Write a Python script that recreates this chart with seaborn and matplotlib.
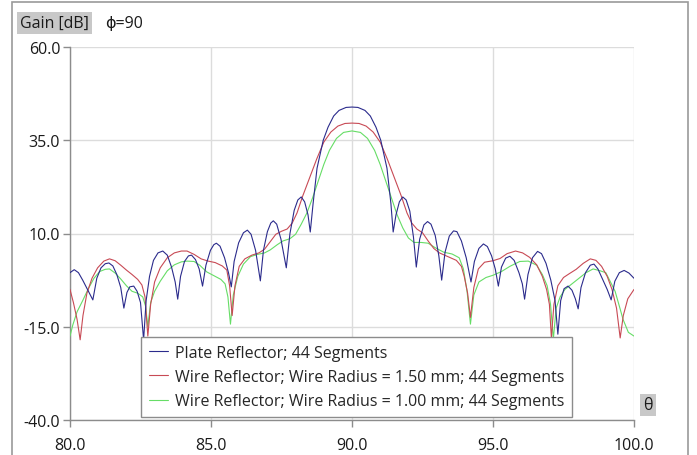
import numpy as np
import pandas as pd
import matplotlib
matplotlib.use("Agg")
import matplotlib.pyplot as plt
import seaborn as sns
from matplotlib.patches import Rectangle

# ---------------- data ----------------
series_names = [
    "Plate Reflector; 44 Segments",
    "Wire Reflector; Wire Radius = 1.50 mm; 44 Segments",
    "Wire Reflector; Wire Radius = 1.00 mm; 44 Segments",
]

plate_theta = [80.00, 80.15, 80.30, 80.45, 80.62, 80.81, 80.95, 81.10, 81.25, 81.38,
               81.52, 81.66, 81.80, 81.91, 82.02, 82.12, 82.26, 82.38, 82.50, 82.61,
               82.70, 82.82, 82.96, 83.12, 83.29, 83.45, 83.60, 83.73, 83.82, 83.92,
               84.06, 84.20, 84.31, 84.45, 84.58, 84.70, 84.82, 84.98, 85.10, 85.19,
               85.32, 85.48, 85.62, 85.72, 85.82, 85.98, 86.15, 86.29, 86.42, 86.58,
               86.75, 86.86, 87.00, 87.12, 87.21, 87.33, 87.48, 87.67, 87.80, 87.95,
               88.08, 88.20, 88.32, 88.44, 88.52, 88.62, 88.76, 88.98, 89.15, 89.35,
               89.54, 89.79, 90.00, 90.21, 90.46, 90.65, 90.85, 91.02, 91.24, 91.38,
               91.46, 91.56, 91.68, 91.80, 91.92, 92.05, 92.18, 92.28, 92.40, 92.55,
               92.68, 92.80, 92.95, 93.08, 93.18, 93.30, 93.45, 93.60, 93.72, 93.88,
               94.05, 94.22, 94.34, 94.50, 94.66, 94.80, 94.95, 95.08, 95.19, 95.30,
               95.45, 95.60, 95.75, 95.92, 96.04, 96.12, 96.24, 96.40, 96.58, 96.72,
               96.88, 97.05, 97.20, 97.30, 97.40, 97.52, 97.66, 97.80, 97.92, 98.02,
               98.12, 98.28, 98.45, 98.58, 98.72, 98.90, 99.05, 99.19, 99.32, 99.48,
               99.65, 99.82, 100.00]
plate_gain = [-0.5, 0.3, -0.5, -2.5, -5.0, -7.8, -2.0, 0.8, 1.9, 2.1,
              1.3, -1.0, -4.5, -10.0, -5.8, -4.3, -4.1, -5.5, -8.5, -18.5,
              -8.0, -1.5, 2.8, 4.8, 5.3, 4.2, 1.0, -3.0, -7.6, -1.5,
              2.5, 4.0, 4.2, 3.0, 0.5, -4.1, 1.5, 5.5, 7.0, 7.4,
              6.6, 3.5, -0.5, -4.3, 2.5, 7.5, 10.2, 10.9, 9.8, 5.5,
              -2.7, 5.5, 10.5, 12.8, 13.4, 12.5, 8.5, 0.8, 10.0, 16.2,
              19.0, 19.8, 18.5, 15.0, 10.4, 18.0, 27.5, 35.0, 38.5, 41.5,
              43.0, 43.8, 43.9, 43.8, 43.0, 41.5, 38.5, 35.0, 27.5, 18.0,
              10.4, 15.0, 18.5, 19.8, 19.0, 16.0, 9.0, 1.0, 8.5, 12.3,
              13.2, 12.5, 9.5, 4.0, -2.5, 5.0, 9.3, 10.7, 10.5, 8.0,
              3.5, -3.0, 2.5, 6.0, 7.2, 6.5, 4.0, 0.5, -4.1, 1.0,
              3.4, 3.9, 2.8, -0.5, -3.5, -7.6, -1.0, 3.5, 5.2, 4.6,
              2.0, -2.5, -8.0, -17.0, -8.0, -4.8, -4.1, -5.2, -7.5, -10.2,
              -4.5, -0.5, 1.5, 1.8, 0.5, -2.5, -5.0, -7.8, -2.8, -0.5,
              0.1, -0.6, -2.0]

wire150_theta = [80.00, 80.12, 80.25, 80.36, 80.46, 80.60, 80.78, 80.98, 81.20, 81.40,
                 81.60, 81.80, 82.00, 82.20, 82.40, 82.55, 82.66, 82.76, 82.86, 83.00,
                 83.20, 83.45, 83.70, 83.95, 84.15, 84.40, 84.65, 84.90, 85.15, 85.40,
                 85.56, 85.66, 85.75, 85.85, 86.00, 86.20, 86.45, 86.70, 86.90, 87.10,
                 87.30, 87.50, 87.70, 87.88, 88.05, 88.25, 88.50, 88.75, 89.00, 89.25,
                 89.50, 89.75, 90.00, 90.25, 90.50, 90.75, 91.00, 91.25, 91.50, 91.75,
                 91.95, 92.12, 92.30, 92.50, 92.70, 92.90, 93.10, 93.40, 93.70, 93.88,
                 93.98, 94.10, 94.20, 94.32, 94.48, 94.70, 95.00, 95.25, 95.50, 95.80,
                 96.05, 96.30, 96.55, 96.75, 96.90, 97.00, 97.07, 97.16, 97.30, 97.50,
                 97.70, 97.95, 98.20, 98.45, 98.65, 98.85, 99.05, 99.22, 99.38, 99.51,
                 99.62, 99.78, 100.00]
wire150_gain = [-5.0, -8.5, -13.0, -18.5, -12.0, -6.0, -2.0, 0.8, 2.6, 3.2,
                2.7, 1.5, 0.2, -1.0, -2.3, -3.8, -7.0, -17.5, -9.0, -3.0,
                0.8, 3.5, 4.8, 5.3, 5.3, 4.4, 3.2, 2.6, 2.2, 1.3,
                0.2, -4.0, -12.0, -4.0, 1.2, 3.2, 4.2, 4.8, 5.8, 7.8,
                9.8, 10.6, 11.2, 12.8, 15.5, 20.0, 25.0, 30.0, 34.5, 37.2,
                38.8, 39.5, 39.6, 39.5, 38.8, 37.2, 34.5, 30.0, 25.0, 20.0,
                15.5, 12.8, 11.2, 10.2, 8.0, 6.0, 4.8, 3.8, 2.8, 1.2,
                -1.5, -6.0, -12.5, -4.5, 0.5, 2.3, 2.7, 3.3, 4.6, 5.3,
                4.8, 3.6, 1.6, -1.5, -5.0, -9.0, -18.0, -9.0, -4.0, -1.8,
                -0.8, 0.4, 2.0, 3.2, 2.8, 1.2, -1.5, -5.0, -10.0, -18.0,
                -12.0, -7.5, -5.0]

wire100_theta = [80.00, 80.10, 80.25, 80.45, 80.65, 80.85, 81.05, 81.25, 81.40, 81.60,
                 81.80, 82.00, 82.20, 82.40, 82.58, 82.68, 82.76, 82.86, 83.00, 83.20,
                 83.45, 83.70, 83.95, 84.15, 84.40, 84.60, 84.85, 85.10, 85.35, 85.50,
                 85.60, 85.69, 85.79, 85.95, 86.15, 86.40, 86.65, 86.90, 87.10, 87.35,
                 87.55, 87.80, 88.00, 88.20, 88.40, 88.60, 88.80, 89.00, 89.20, 89.45,
                 89.70, 90.00, 90.30, 90.55, 90.80, 91.00, 91.20, 91.40, 91.60, 91.80,
                 92.00, 92.20, 92.45, 92.70, 92.95, 93.25, 93.55, 93.80, 93.95, 94.08,
                 94.20, 94.32, 94.50, 94.75, 95.00, 95.30, 95.60, 95.95, 96.25, 96.55,
                 96.75, 96.92, 97.04, 97.14, 97.24, 97.38, 97.55, 97.80, 98.05, 98.30,
                 98.55, 98.80, 99.00, 99.20, 99.33, 99.50, 99.61, 99.80, 100.00]
wire100_gain = [-17.5, -14.5, -11.0, -8.0, -4.8, -2.0, -0.2, 0.4, 0.5, -0.6,
                -2.2, -4.0, -5.5, -6.0, -7.0, -9.5, -15.0, -8.5, -5.5, -2.8,
                0.0, 1.6, 2.4, 2.6, 2.5, 1.5, -0.3, -1.3, -2.3, -3.5,
                -7.0, -14.3, -6.5, -1.5, 1.8, 3.8, 4.4, 4.8, 5.6, 7.0,
                8.0, 8.6, 9.8, 12.5, 15.5, 19.5, 24.0, 28.5, 32.3, 35.5,
                37.1, 37.5, 37.1, 35.5, 32.3, 28.5, 24.0, 19.5, 15.0, 11.5,
                8.8, 7.6, 7.6, 7.4, 6.2, 5.0, 4.5, 3.5, 0.5, -5.5,
                -14.3, -6.5, -3.0, -1.8, -1.2, -0.2, 1.2, 2.5, 2.6, 1.5,
                -1.0, -4.0, -9.0, -18.3, -10.0, -7.0, -5.0, -3.5, -2.0, -0.5,
                0.5, 0.0, -0.5, -3.5, -5.5, -10.0, -13.0, -16.5, -17.5]

x_ticks = [80.0, 85.0, 90.0, 95.0, 100.0]
y_ticks = [-40.0, -15.0, 10.0, 35.0, 60.0]

colors = ["#2b2b8c", "#c84a55", "#66dd66"]

# ---------------- figure ----------------
sns.set_theme(style="white")
plt.rcParams["font.family"] = ["Open Sans", "DejaVu Sans"]

fig = plt.figure(figsize=(6.97, 4.56), dpi=100)
ax = fig.add_axes([70 / 697, 1 - 421 / 456, 564 / 697, 373 / 456])

# outer frame
fig.patches.append(Rectangle((12 / 697, -0.05), (688 - 12) / 697, 1.05 - 3 / 456,
                             transform=fig.transFigure, fill=False,
                             edgecolor="#9a9a9a", linewidth=1.2, zorder=0))

data = [(plate_theta, plate_gain), (wire150_theta, wire150_gain), (wire100_theta, wire100_gain)]
zorders = [5, 4, 3]
for (th, g), name, c, z in zip(data, series_names, colors, zorders):
    df = pd.DataFrame({"theta": th, "gain": g})
    sns.lineplot(data=df, x="theta", y="gain", ax=ax, color=c, linewidth=0.8,
                 label=name, zorder=z, sort=True)

ax.set_xlim(80, 100)
ax.set_ylim(-40, 60)
ax.set_xticks(x_ticks)
ax.set_yticks(y_ticks)
ax.set_xticklabels([f"{v:.1f}" for v in x_ticks])
ax.set_yticklabels([f"{v:.1f}" for v in y_ticks])
ax.set_xlabel("")
ax.set_ylabel("")
ax.grid(True, color="#dcdcdc", linewidth=1.0)
ax.set_axisbelow(True)
for s in ["top", "right"]:
    ax.spines[s].set_visible(False)
for s in ["left", "bottom"]:
    ax.spines[s].set_color("#8c8c8c")
    ax.spines[s].set_linewidth(1.0)
ax.tick_params(axis="both", which="major", length=5, width=1.0, color="#8c8c8c",
               labelsize=11.5, labelcolor="#1a1a1a", direction="out",
               bottom=True, left=True)
ax.tick_params(axis="x", pad=7)
ax.tick_params(axis="y", pad=2)

leg = ax.legend(loc="lower left", bbox_to_anchor=((141 - 70) / 564, 3 / 373),
                borderaxespad=0, frameon=True, fancybox=False, fontsize=11.5,
                handlelength=1.2, handletextpad=0.45, labelspacing=0.52,
                borderpad=0.48, framealpha=1)
leg.get_frame().set_edgecolor("#8c8c8c")
leg.get_frame().set_linewidth(1.0)

fig.text(20 / 697, 1 - 24 / 456, "Gain [dB]", fontsize=11.5, color="#1a1a1a",
         va="center", ha="left",
         bbox=dict(boxstyle="square,pad=0.2", facecolor="#c8c8c8", edgecolor="none"))
fig.text(105 / 697, 1 - 24 / 456, "ϕ=90", fontsize=11.5, color="#1a1a1a",
         va="center", ha="left")
fig.text(648 / 697, 1 - 406 / 456, "θ", fontsize=11.5, color="#1a1a1a",
         va="center", ha="center",
         bbox=dict(boxstyle="square,pad=0.2", facecolor="#c8c8c8", edgecolor="none"))

fig.savefig("out.png", dpi=100)
